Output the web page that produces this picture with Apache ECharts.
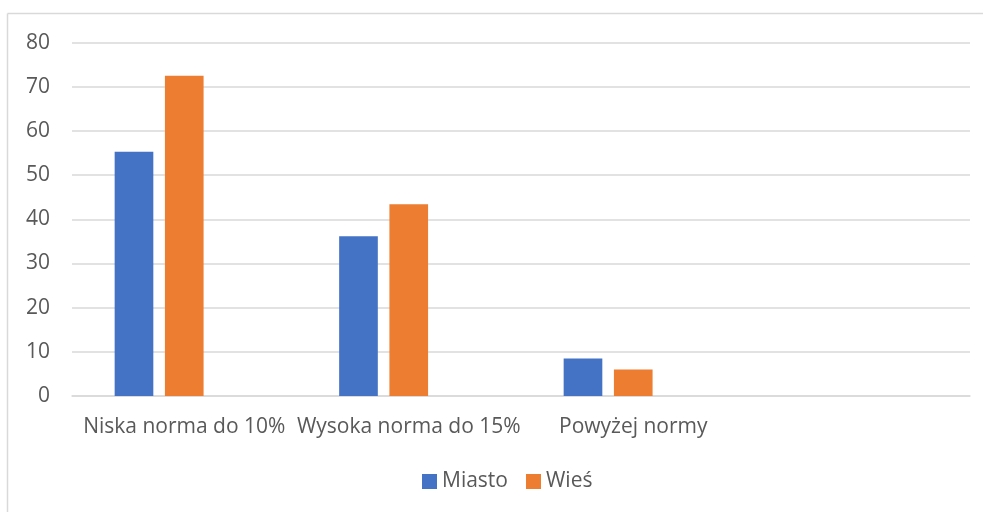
<!DOCTYPE html>
<html>
<head>
<meta charset="utf-8">
<script src="https://cdn.jsdelivr.net/npm/echarts@6/dist/echarts.min.js"></script>
<style>
  html, body { margin: 0; padding: 0; background: #fff; }
  #chart { width: 983px; height: 512px; }
</style>
</head>
<body>
<div id="chart"></div>
<script>
// categories (the 4th slot is empty in the original sheet)
const categories = ['Niska norma do 10%', 'Wysoka norma do 15%', 'Powyżej normy', '']
const miasto = [55.3, 36.2, 8.5, '-']
const wies = [72.5, 43.4, 6.0, '-']
const emptySeries = ['-', '-', '-', '-'] // third, blank series of the workbook
const yTicks = { min: 0, max: 80, interval: 10 }

const textColor = '#595959'
const gridColor = '#d9d9d9'
const font = '"Open Sans", "Noto Sans", sans-serif'

const chart = echarts.init(document.getElementById('chart'))
chart.setOption({
  backgroundColor: '#fff',
  animation: false,
  textStyle: { fontFamily: font },
  graphic: [
    { type: 'line', shape: { x1: 7.5, y1: 13.5, x2: 983, y2: 13.5 }, style: { stroke: gridColor, lineWidth: 1.5 } },
    { type: 'line', shape: { x1: 7.5, y1: 13.5, x2: 7.5, y2: 512 }, style: { stroke: gridColor, lineWidth: 1.5 } }
  ],
  grid: { left: 72, right: 13, top: 42.7, bottom: 116 },
  legend: {
    data: ['Miasto', 'Wieś'],
    bottom: 15,
    left: 417,
    icon: 'rect',
    itemWidth: 15,
    itemHeight: 15,
    itemGap: 18,
    textStyle: { color: textColor, fontSize: 21, fontFamily: font }
  },
  xAxis: {
    type: 'category',
    data: categories,
    axisLine: { lineStyle: { color: gridColor, width: 1.5 } },
    axisTick: { show: false },
    axisLabel: { color: textColor, fontSize: 21, margin: 21, interval: 0 }
  },
  yAxis: {
    type: 'value',
    min: yTicks.min,
    max: yTicks.max,
    interval: yTicks.interval,
    axisLine: { show: false },
    axisTick: { show: false },
    axisLabel: { color: textColor, fontSize: 21, margin: 22 },
    splitLine: { lineStyle: { color: gridColor, width: 1.5 } }
  },
  series: [
    { name: 'Miasto', type: 'bar', data: miasto, barGap: '30%', barCategoryGap: '38%', itemStyle: { color: '#4472c4' } },
    { name: 'Wieś', type: 'bar', data: wies, itemStyle: { color: '#ed7d31' } },
    { name: '', type: 'bar', data: emptySeries, itemStyle: { color: '#a5a5a5' } }
  ]
})
</script>
</body>
</html>
